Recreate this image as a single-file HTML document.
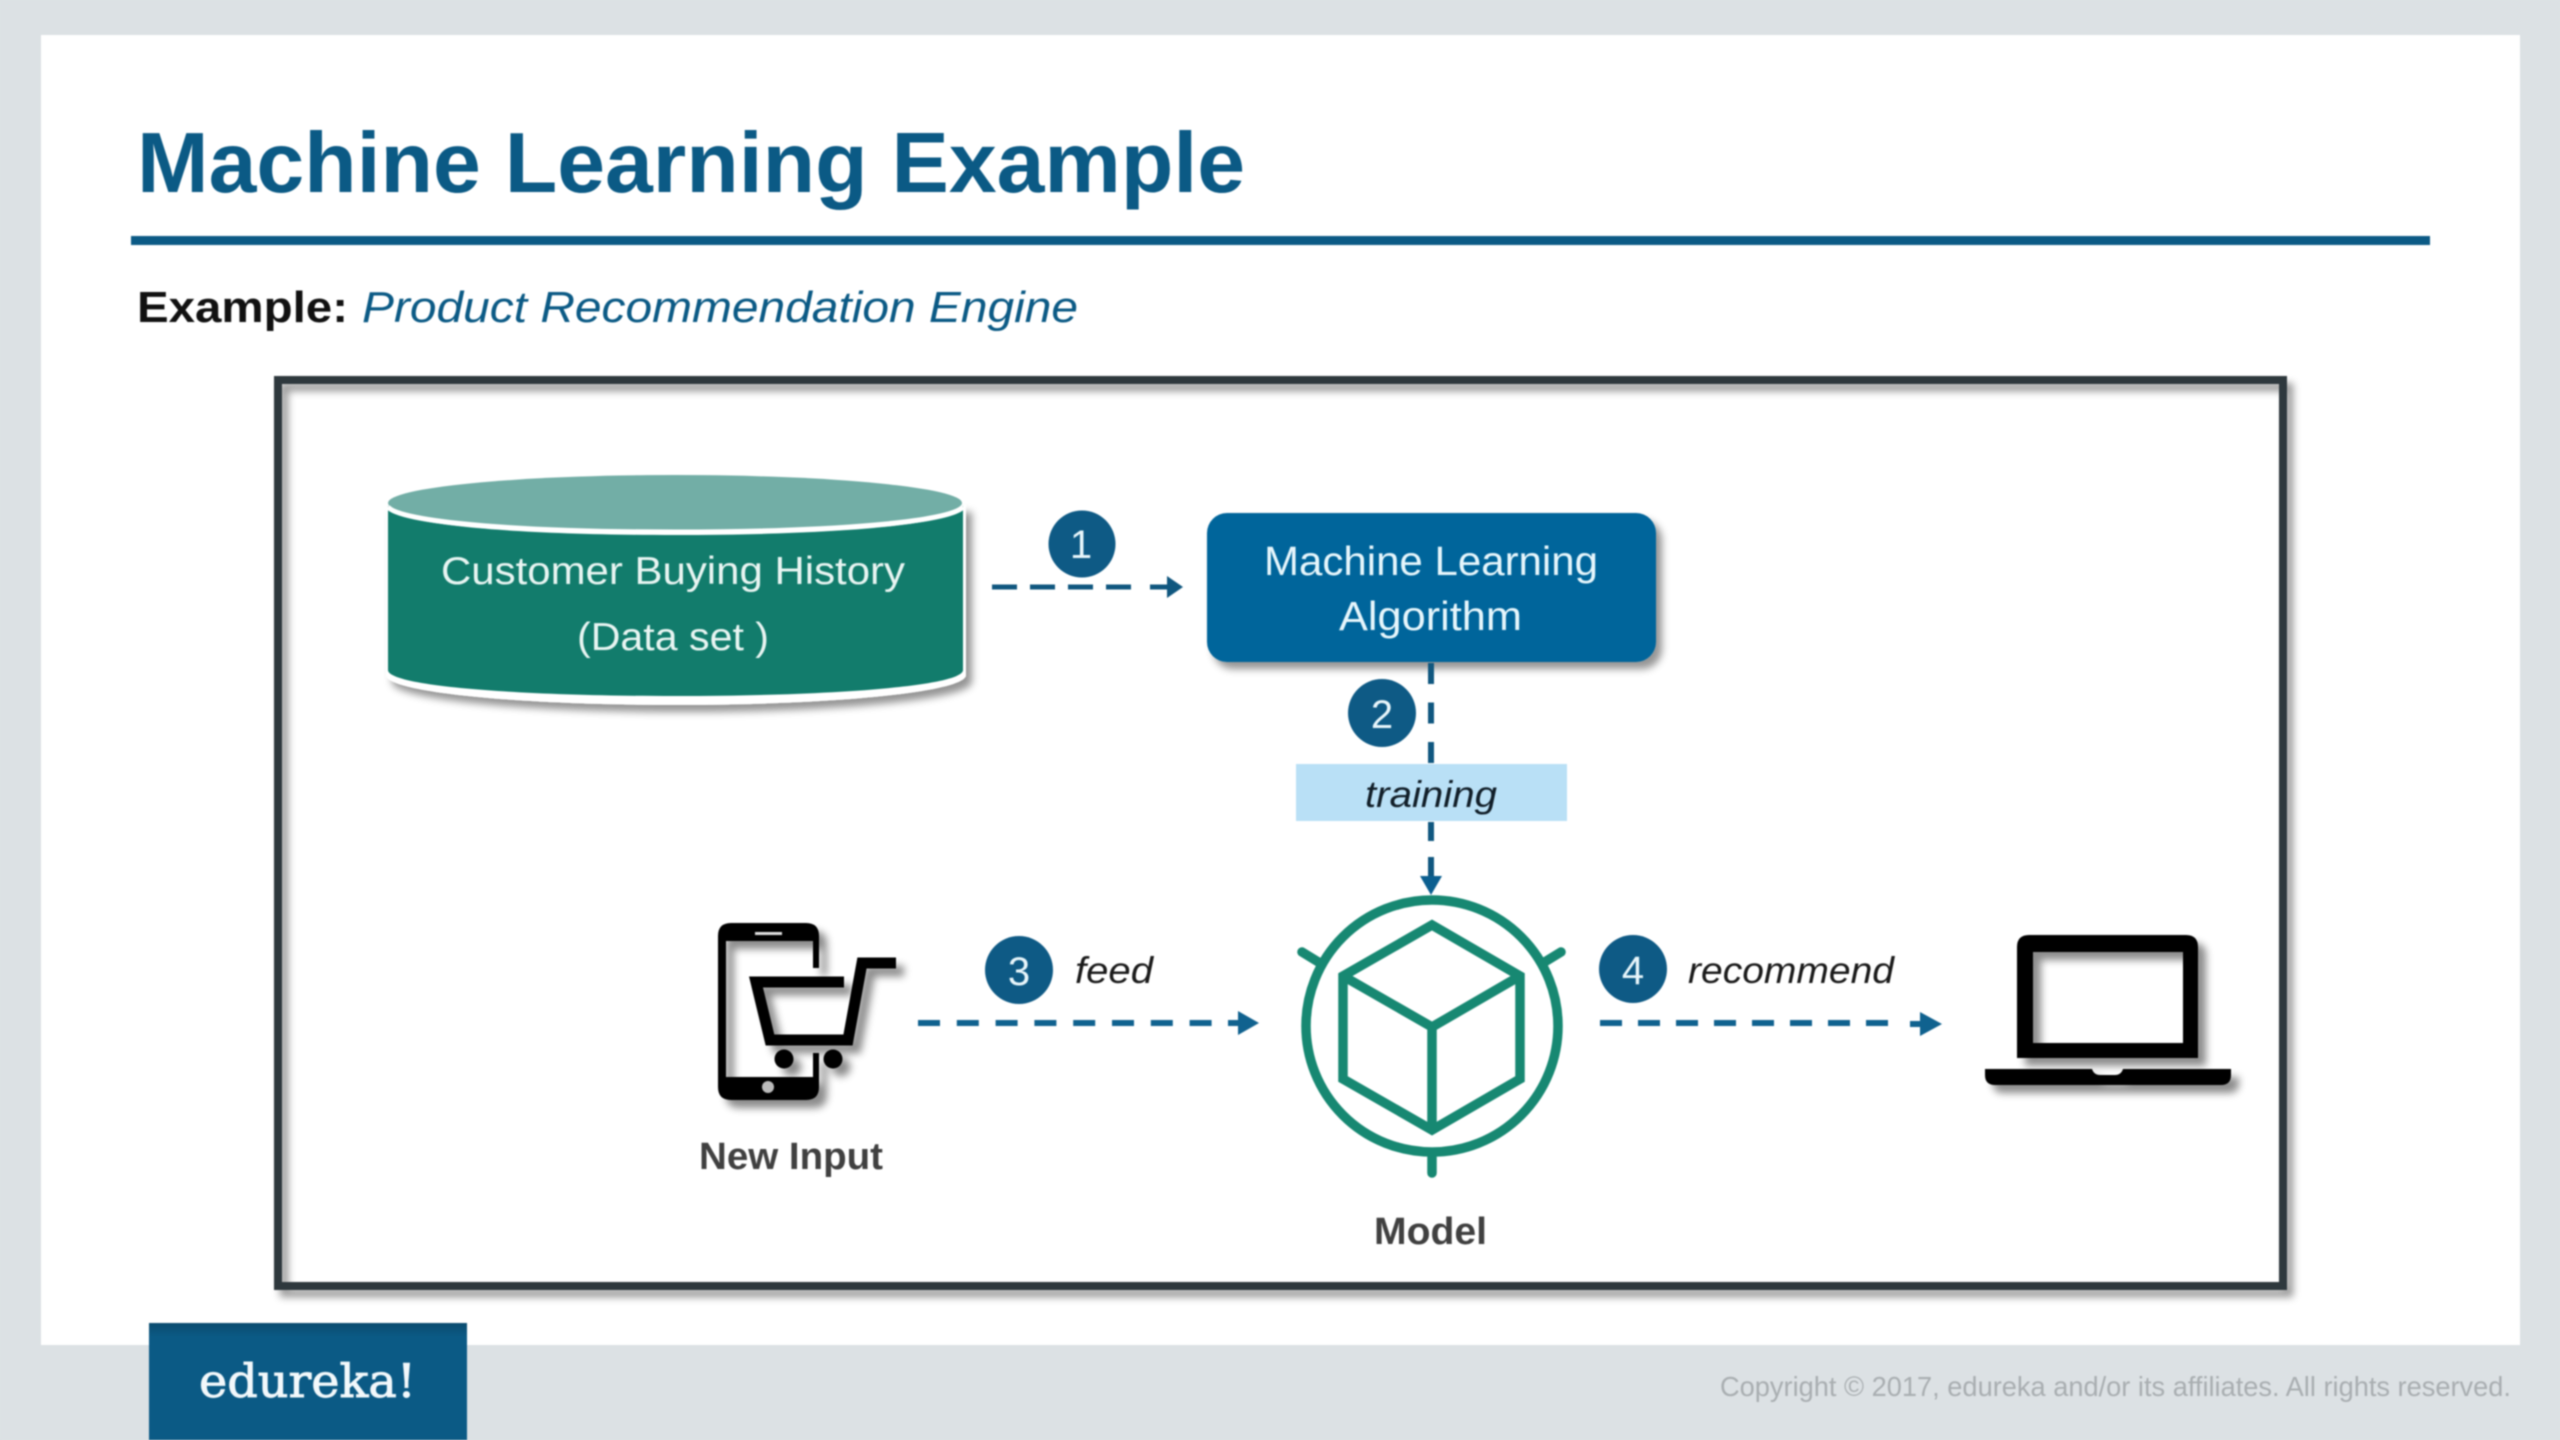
<!DOCTYPE html>
<html><head><meta charset="utf-8"><style>
html,body{margin:0;padding:0;width:2560px;height:1440px;overflow:hidden;background:#dce1e4}
svg{display:block;filter:blur(.7px)}
text{font-family:"Liberation Sans",Arial,sans-serif}
</style></head><body>
<svg width="2560" height="1440" viewBox="0 0 2560 1440" xmlns="http://www.w3.org/2000/svg">
<defs>
<filter id="sh" x="-10%" y="-10%" width="125%" height="125%"><feDropShadow dx="6" dy="7" stdDeviation="4" flood-color="#000" flood-opacity=".42"/></filter>
<filter id="ish" x="-15%" y="-15%" width="135%" height="135%"><feDropShadow dx="8" dy="8" stdDeviation="4" flood-color="#000" flood-opacity=".45"/></filter>
<linearGradient id="lg" x1="0" y1="0" x2="0" y2="1"><stop offset="0" stop-color="#0a4b6e"/><stop offset=".12" stop-color="#0b5a85"/><stop offset="1" stop-color="#0b5a85"/></linearGradient>
</defs>
<rect width="2560" height="1440" fill="#dce1e4"/>
<rect x="41" y="35" width="2479" height="1310" fill="#fff"/>

<text x="137" y="192" font-size="85" font-weight="700" fill="#0b5a85" textLength="1108" lengthAdjust="spacingAndGlyphs">Machine Learning Example</text>
<rect x="131" y="236" width="2299" height="9" fill="#0b5a85"/>
<text x="137" y="322" font-size="44" font-weight="700" fill="#111" textLength="211" lengthAdjust="spacingAndGlyphs">Example:</text>
<text x="362" y="322" font-size="44" font-style="italic" fill="#0b5a85" textLength="716" lengthAdjust="spacingAndGlyphs">Product Recommendation Engine</text>

<rect x="278" y="380" width="2005" height="906" fill="none" stroke="#2f383c" stroke-width="8" filter="url(#sh)"/>

<!-- Cylinder -->
<g filter="url(#sh)">
<path d="M386,505 V675 C386,692 516,705 675,705 C834,705 966,692 966,675 V505 Z" fill="#fff"/>
</g>
<path d="M388,505 C388,525 516,535 675,535 C834,535 963,525 963,505 V670 C963,686 834,696 675,696 C516,696 388,686 388,670 Z" fill="#127c6c"/>
<ellipse cx="675" cy="503" rx="287" ry="28" fill="#72aea6"/>
<path d="M388,507 C400,522 516,532 675,532 C834,532 950,522 963,507" fill="none" stroke="#fff" stroke-width="5"/>
<text x="441" y="584" font-size="39" fill="#e8f5f2" textLength="464" lengthAdjust="spacingAndGlyphs">Customer Buying History</text>
<text x="577" y="650" font-size="39" fill="#e8f5f2" textLength="192" lengthAdjust="spacingAndGlyphs">(Data set )</text>

<!-- ML box -->
<rect x="1207" y="513" width="449" height="149" rx="20" fill="#04659b" filter="url(#sh)"/>
<text x="1264" y="575" font-size="41" fill="#e6f6fc" textLength="334" lengthAdjust="spacingAndGlyphs">Machine Learning</text>
<text x="1339" y="630" font-size="41" fill="#e6f6fc" textLength="183" lengthAdjust="spacingAndGlyphs">Algorithm</text>

<!-- Arrow 1 -->
<path d="M992,587 H1143" stroke="#10577f" stroke-width="5" stroke-dasharray="25 13" fill="none"/>
<path d="M1150,587 H1170" stroke="#10577f" stroke-width="5"/>
<path d="M1167,576 L1183,587 L1167,598 Z" fill="#10577f"/>

<!-- Arrow 2 -->
<path d="M1431,663 V764" stroke="#10577f" stroke-width="6" stroke-dasharray="21 18.5" fill="none"/>
<path d="M1431,822 V880" stroke="#10577f" stroke-width="6" stroke-dasharray="19 16" fill="none"/>
<path d="M1420,876 L1431,895 L1442,876 Z" fill="#0b5f90"/>

<!-- Training -->
<rect x="1296" y="764" width="271" height="57" fill="#b9e0f6"/>
<text x="1365" y="807" font-size="37" font-style="italic" fill="#111e28" textLength="132" lengthAdjust="spacingAndGlyphs">training</text>

<!-- Number circles -->
<g fill="#0e5a85">
<circle cx="1082" cy="544" r="33.5"/><circle cx="1382" cy="713" r="34"/>
<circle cx="1019" cy="970" r="34"/><circle cx="1633" cy="969" r="34"/>
</g>
<g font-size="40" fill="#e8f6fb" text-anchor="middle">
<text x="1081" y="558">1</text><text x="1382" y="728">2</text>
<text x="1019" y="985">3</text><text x="1633" y="984">4</text>
</g>

<!-- Phone + cart -->
<g filter="url(#ish)">
<path d="M819,968 V936 Q819,923 806,923 H731 Q718,923 718,936 V1087 Q718,1100 731,1100 H806 Q819,1100 819,1087 V1053 H813 V1077 H726 V941 H813 V968 Z" fill="#000"/>
<path d="M844,982 H756 L770,1040 H848 L862,963 H896" fill="none" stroke="#000" stroke-width="11"/>
<circle cx="784" cy="1059" r="9.5" fill="#000"/><circle cx="833" cy="1059" r="9.5" fill="#000"/>
</g>
<rect x="755" y="932" width="27" height="3" fill="#ddd"/>
<circle cx="768" cy="1087" r="6" fill="#bbb"/>
<text x="699" y="1169" font-size="38" font-weight="700" fill="#404040" textLength="184" lengthAdjust="spacingAndGlyphs">New Input</text>

<text x="1075" y="983" font-size="37" font-style="italic" fill="#1a1a1a" textLength="78" lengthAdjust="spacingAndGlyphs">feed</text>

<!-- Arrow 3 -->
<path d="M918,1023 H1214" stroke="#10628f" stroke-width="6" stroke-dasharray="22 16.8" fill="none"/>
<path d="M1228,1023 H1242" stroke="#10628f" stroke-width="6"/>
<path d="M1238,1011 L1259,1023 L1238,1035 Z" fill="#10628f"/>

<!-- Model icon -->
<g fill="none" stroke="#178872" stroke-width="9.5">
<circle cx="1432" cy="1026" r="126"/>
<path d="M1432,1157 V1173 M1302,952 L1320,963 M1561,952 L1543,963" stroke-linecap="round"/>
<path d="M1432,925 L1520,976 V1079 L1432,1130 L1343,1079 V976 Z" stroke-linejoin="miter"/>
<path d="M1343,976 L1432,1027 L1520,976 M1432,1027 V1130"/>
</g>
<text x="1374" y="1244" font-size="38" font-weight="700" fill="#404040" textLength="113" lengthAdjust="spacingAndGlyphs">Model</text>

<!-- Arrow 4 -->
<text x="1688" y="983" font-size="37" font-style="italic" fill="#1a1a1a" textLength="206" lengthAdjust="spacingAndGlyphs">recommend</text>
<path d="M1600,1023 H1890" stroke="#10628f" stroke-width="6" stroke-dasharray="22 16" fill="none"/>
<path d="M1910,1024 H1925" stroke="#10628f" stroke-width="6"/>
<path d="M1920,1012 L1942,1024 L1920,1036 Z" fill="#10628f"/>

<!-- Laptop -->
<g filter="url(#ish)">
<path fill-rule="evenodd" d="M2029,935 H2186 Q2198,935 2198,947 V1058 H2017 V947 Q2017,935 2029,935 Z M2033,952 V1043 H2183 V952 Z" fill="#000"/>
<path d="M1985,1069 H2092 Q2094,1075 2100,1075 H2115 Q2121,1075 2123,1069 H2231 V1075 Q2231,1085 2221,1085 H1995 Q1985,1085 1985,1075 Z" fill="#000"/>
</g>

<!-- Footer -->
<rect x="149" y="1323" width="318" height="117" fill="url(#lg)"/>
<text x="199" y="1397" font-size="46" fill="#f2f8fb" stroke="#f2f8fb" stroke-width=".9" style='font-family:"DejaVu Serif","Liberation Serif",serif' textLength="217" lengthAdjust="spacingAndGlyphs">edureka!</text>
<text x="1720" y="1396" font-size="28" fill="#a9aeb1" textLength="791" lengthAdjust="spacingAndGlyphs">Copyright © 2017, edureka and/or its affiliates. All rights reserved.</text>
</svg>
</body></html>
